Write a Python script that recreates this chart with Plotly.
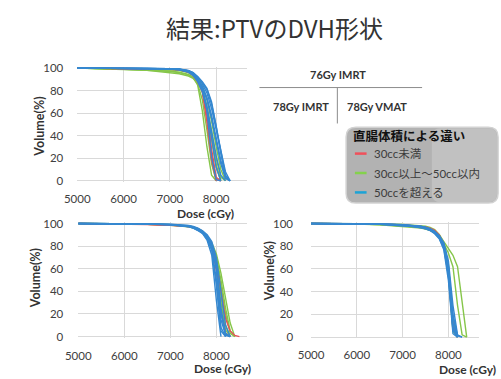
import plotly.graph_objects as go

W, H = 501, 379

# Dose sampling points (cGy) shared by every DVH curve
DOSE = [5000, 5500, 6000, 6500, 7000, 7200, 7400, 7500, 7600, 7700,
        7800, 7900, 8000, 8100, 8200, 8300, 8400, 8500]

# ---- 76Gy IMRT : volume (%) per patient ----
IMRT76_RED = [
    [100, 99.9, 99.7, 99.5, 99.2, 98.7, 96.5, 93.5, 88, 79, 52, 18, 0],
    [100, 99.9, 99.8, 99.6, 99.3, 98.8, 97, 94.5, 89.5, 81, 60, 28, 3, 0],
    [100, 100, 99.7, 99.4, 99, 98.5, 96.5, 94, 89, 80, 58, 25, 1, 0],
]
IMRT76_GREEN = [
    [100, 99.5, 99, 98.5, 97.5, 96.5, 94.5, 92, 85, 62, 30, 5, 0],
    [100, 99.6, 99, 98, 96, 95, 93, 91, 86, 72, 45, 15, 0],
    [100, 99.8, 99.5, 99, 98.5, 97.8, 96, 93.5, 88, 79, 62, 38, 12, 0],
    [100, 99.8, 99.6, 99.2, 98.8, 98.2, 96.5, 94, 89, 81, 66, 44, 20, 3, 0],
    [100, 99.7, 99.3, 98.5, 97, 96, 94, 92, 88, 80, 64, 40, 14, 0],
    [100, 100, 99.8, 99.5, 99.2, 98.8, 97.5, 95.5, 91, 84, 72, 53, 30, 10, 0],
]
IMRT76_BLUE = [
    [100, 100, 100, 99.8, 99.5, 99, 97.5, 95.5, 92, 86, 78, 64, 46, 26, 8, 0],
    [100, 100, 100, 99.8, 99.6, 99.2, 98, 96, 92.5, 88, 82, 70, 49, 27, 5, 0],
    [100, 100, 99.9, 99.7, 99.3, 98.8, 97, 94.5, 90, 83, 72, 55, 35, 15, 2, 0],
    [100, 100, 99.9, 99.6, 99.2, 98.5, 96.5, 94, 89, 81, 66, 45, 22, 5, 0],
    [100, 100, 99.9, 99.7, 99.4, 99, 97.5, 95, 90.5, 84, 74, 58, 38, 18, 3, 0],
    [100, 100, 100, 99.8, 99.5, 99, 97, 94, 88, 79, 63, 38, 12, 0],
    [100, 100, 99.9, 99.7, 99.3, 98.7, 96.5, 93.5, 89, 82, 62, 21, 1, 0],
    [100, 100, 100, 99.8, 99.5, 99.1, 97.8, 96, 92, 87, 81, 68, 48, 24, 3, 0],
]

# ---- 78Gy IMRT ----
IMRT78_RED = [
    [100, 100, 99.6, 99.2, 98.6, 98.2, 97.4, 96.6, 95.4, 93.2, 89, 82, 66, 40, 16, 5, 1, 0],
    [100, 99.8, 99.4, 99, 98.4, 98, 97.2, 96.4, 95, 92.5, 88, 80, 58, 22, 3, 0],
]
IMRT78_GREEN = [
    [100, 100, 99.8, 99.5, 99, 98.6, 97.8, 97, 95.5, 93, 89, 83, 73, 56, 35, 12, 0],
    [100, 100, 99.8, 99.4, 98.8, 98.3, 97.4, 96.5, 95, 92.5, 88, 81, 68, 45, 20, 3, 0],
    [100, 99.9, 99.6, 99.2, 98.5, 98, 97, 96, 94.5, 92, 87.5, 79, 62, 30, 6, 0],
    [100, 99.9, 99.7, 99.3, 98.7, 98.2, 97.3, 96.3, 94.8, 92.3, 88, 80, 64, 35, 10, 0],
    [100, 100, 99.8, 99.5, 99, 98.5, 97.6, 96.8, 95.3, 93, 89, 82, 70, 50, 25, 5, 0],
]
IMRT78_BLUE = [
    [100, 100, 99.9, 99.6, 99, 98.5, 97.5, 96.5, 95, 92.5, 88, 80, 60, 15, 1, 0],
    [100, 100, 99.8, 99.5, 98.8, 98.2, 97, 96, 94, 91, 85, 72, 32, 0],
    [100, 100, 99.9, 99.6, 99, 98.5, 97.5, 96.5, 94.5, 92, 87, 78, 50, 8, 0],
    [100, 100, 99.9, 99.7, 99.2, 98.8, 98, 97, 95.5, 93, 89, 82, 65, 25, 3, 0],
    [100, 100, 99.8, 99.5, 98.8, 98.3, 97.2, 96, 94, 91.5, 86, 76, 45, 5, 0],
    [100, 100, 99.9, 99.6, 99, 98.6, 97.6, 96.6, 95, 92.8, 88.5, 81, 62, 20, 2, 0],
    [100, 100, 99.9, 99.7, 99.3, 99, 98.2, 97.4, 96, 93.5, 90, 84, 70, 40, 10, 0],
]

# ---- 78Gy VMAT ----
VMAT78_RED = [
    [100, 100, 99.9, 99.5, 98.8, 98.3, 97.6, 97, 96, 94, 90, 82, 60, 10, 0],
    [100, 100, 99.8, 99.4, 98.6, 98, 97.1, 96.4, 95, 92.8, 88.5, 80.5, 57, 7, 0],
]
VMAT78_GREEN = [
    [100, 99.9, 99.6, 99, 98, 97.4, 96.5, 95.8, 94.5, 92.5, 90, 84, 78, 72, 62, 30, 0],
    [100, 99.9, 99.5, 98.8, 97.6, 97, 96, 95.2, 94, 92, 88.5, 82, 74, 62, 28, 2, 0],
    [100, 99.9, 99.6, 99, 98, 97.4, 96.4, 95.6, 94.2, 92, 88, 80, 56, 5, 0],
    [100, 100, 99.8, 99.3, 98.4, 97.8, 96.8, 96, 94.6, 92.5, 88.5, 81, 60, 10, 0],
    [100, 100, 99.9, 99.6, 99.2, 98.8, 98.2, 97.6, 96.6, 94.6, 90.5, 83, 64, 15, 0],
]
VMAT78_BLUE = [
    [100, 100, 99.9, 99.4, 98.5, 97.8, 96.8, 96, 94.5, 92, 88, 80, 58, 8, 0],
    [100, 100, 99.8, 99.2, 98.2, 97.4, 96.3, 95.4, 93.8, 91, 86.5, 77, 50, 3, 0],
    [100, 100, 99.9, 99.5, 98.8, 98.2, 97.3, 96.5, 95, 92.8, 89, 82, 63, 18, 0],
    [100, 100, 99.9, 99.6, 99, 98.5, 97.6, 96.8, 95.4, 93.2, 89.5, 83, 67, 28, 2, 0],
    [100, 100, 99.8, 99.3, 98.4, 97.6, 96.5, 95.6, 94, 91.5, 87, 78, 54, 6, 0],
    [100, 100, 99.9, 99.5, 98.7, 98, 97, 96.2, 94.8, 92.4, 88.5, 81, 60, 12, 0],
    [100, 100, 99.9, 99.5, 98.9, 98.3, 97.4, 96.6, 95.2, 93, 89, 82, 62, 20, 1, 0],
]

X_TICKS = [5000, 6000, 7000, 8000]
Y_TICKS = [0, 20, 40, 60, 80, 100]
X_RANGE = [5000, 8660]

GROUP_LABELS = ["30cc未満", "30cc以上～50cc以内", "50ccを超える"]
SCHEME_LABELS = ["76Gy IMRT", "78Gy IMRT", "78Gy VMAT"]

LINE_RED, LINE_GREEN, LINE_BLUE = "#e8505b", "#86c64a", "#3588d0"
KEY_COLORS = ["#f0505a", "#84d24c", "#1ca3d6"]

LATIN = "Lato, 'Noto Sans CJK JP', sans-serif"
CJK = "'Noto Sans CJK JP', sans-serif"


def px(x):
    return x / W


def py(y):
    return 1 - y / H


# plot-area pixel boxes: left, right, y of 100 %, y of 0 %
PANELS = [
    dict(data=(IMRT76_RED, IMRT76_GREEN, IMRT76_BLUE), box=(66, 240, 64, 180),
         ylab=(27, 124), xlab=(198, 214), ystand=13, xstand=8),
    dict(data=(IMRT78_RED, IMRT78_GREEN, IMRT78_BLUE), box=(67, 240, 224, 340.5),
         ylab=(23, 280), xlab=(215, 373.5), ystand=14, xstand=10),
    dict(data=(VMAT78_RED, VMAT78_GREEN, VMAT78_BLUE), box=(306, 478, 224, 341),
         ylab=(263, 273), xlab=(467, 374), ystand=17, xstand=8),
]

PAD = 1.2  # % of head-room so lines at 100 / 0 are not clipped

fig = go.Figure()
layout = dict(
    width=W, height=H, margin=dict(l=0, r=0, t=0, b=0),
    paper_bgcolor="white", plot_bgcolor="white", showlegend=False,
)
annotations = []
shapes = []

for i, p in enumerate(PANELS):
    n = "" if i == 0 else str(i + 1)
    reds, greens, blues = p["data"]
    for curves, col in ((greens, LINE_GREEN), (reds, LINE_RED), (blues, LINE_BLUE)):
        for vol in curves:
            fig.add_trace(go.Scatter(
                x=DOSE[:len(vol)], y=vol, mode="lines",
                line=dict(color=col, width=1.4),
                xaxis="x" + n, yaxis="y" + n, hoverinfo="skip",
            ))
    left, right, top, bot = p["box"]
    unit = (bot - top) / 100.0
    layout["xaxis" + n] = dict(
        domain=[px(left), px(right)], range=X_RANGE, anchor="y" + n,
        tickvals=X_TICKS, showgrid=True, gridcolor="#d9d9d9", gridwidth=1,
        zeroline=False, showline=False, ticks="",
        ticklabelstandoff=p["xstand"],
        tickfont=dict(family=LATIN, size=11.5, color="#404040"),
    )
    layout["yaxis" + n] = dict(
        domain=[py(bot + PAD * unit), py(top - PAD * unit)],
        range=[-PAD, 100 + PAD], anchor="x" + n,
        tickvals=Y_TICKS, showgrid=True, gridcolor="#d9d9d9", gridwidth=1,
        zeroline=False, showline=False, ticks="",
        ticklabelstandoff=p["ystand"],
        tickfont=dict(family=LATIN, size=11.5, color="#404040"),
    )
    yx, yy = p["ylab"]
    annotations.append(dict(
        text="<b>Volume(%)</b>", x=px(yx), y=py(yy), xref="paper", yref="paper",
        textangle=-90, showarrow=False, xanchor="center", yanchor="middle",
        font=dict(family=LATIN, size=12.5, color="#333333"),
    ))
    dx, dy = p["xlab"]
    annotations.append(dict(
        text="<b>Dose (cGy)</b>", x=px(dx), y=py(dy), xref="paper", yref="paper",
        showarrow=False, xanchor="center", yanchor="middle",
        font=dict(family=LATIN, size=12, color="#333333"),
    ))

# Title
annotations.append(dict(
    text="結果:PTVのDVH形状", x=px(268), y=py(22), xref="paper", yref="paper",
    showarrow=False, xanchor="center", yanchor="middle",
    font=dict(family=CJK, size=24, color="#333333"),
))

# Panel key (which scheme is where)
for label, (kx, ky) in zip(SCHEME_LABELS, [(334, 71), (296, 103), (374, 103)]):
    annotations.append(dict(
        text="<b>" + label + "</b>", x=px(kx), y=py(ky), xref="paper", yref="paper",
        showarrow=False, xanchor="center", yanchor="middle",
        font=dict(family=LATIN, size=11, color="#333333"),
    ))
shapes.append(dict(type="line", xref="paper", yref="paper",
                   x0=px(253), x1=px(420), y0=py(84), y1=py(84),
                   line=dict(color="#8c8c8c", width=1)))
shapes.append(dict(type="line", xref="paper", yref="paper",
                   x0=px(333), x1=px(333), y0=py(84), y1=py(121),
                   line=dict(color="#8c8c8c", width=1)))


def rounded_rect(x0, y0, x1, y1, r):
    X0, X1 = px(x0), px(x1)
    Y0, Y1 = py(y0), py(y1)
    rx, ry = r / W, r / H
    return (f"M {X0 + rx},{Y0} L {X1 - rx},{Y0} Q {X1},{Y0} {X1},{Y0 - ry} "
            f"L {X1},{Y1 + ry} Q {X1},{Y1} {X1 - rx},{Y1} "
            f"L {X0 + rx},{Y1} Q {X0},{Y1} {X0},{Y1 + ry} "
            f"L {X0},{Y0 - ry} Q {X0},{Y0} {X0 + rx},{Y0} Z")


# Volume-group key box
shapes.append(dict(type="path", xref="paper", yref="paper",
                   path=rounded_rect(342, 125, 498, 203, 10),
                   fillcolor="#b2b2b2", line=dict(color="#d2d2d2", width=1.5)))
shapes.append(dict(type="path", xref="paper", yref="paper",
                   path=rounded_rect(430, 126, 497, 202, 9),
                   fillcolor="rgba(255,255,255,0.2)", line=dict(width=0)))
annotations.append(dict(
    text="<b>直腸体積による違い</b>", x=px(347), y=py(133), xref="paper", yref="paper",
    showarrow=False, xanchor="left", yanchor="middle",
    font=dict(family=CJK, size=12.5, color="#111111"),
))
for label, col, ky in zip(GROUP_LABELS, KEY_COLORS, [152, 172, 192]):
    shapes.append(dict(type="line", xref="paper", yref="paper",
                       x0=px(351), x1=px(363), y0=py(ky), y1=py(ky),
                       line=dict(color=col, width=2.5)))
    annotations.append(dict(
        text=label, x=px(369), y=py(ky), xref="paper", yref="paper",
        showarrow=False, xanchor="left", yanchor="middle",
        font=dict(family=LATIN, size=11.5, color="#3c3c3c"),
    ))

layout["annotations"] = annotations
layout["shapes"] = shapes
fig.update_layout(**layout)
fig.write_html("out.html")
